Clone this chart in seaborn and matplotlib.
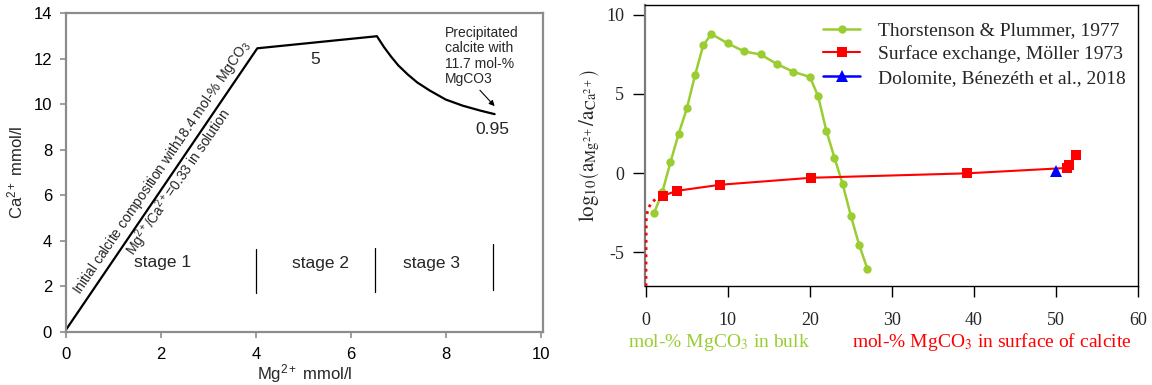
import math
import numpy as np
import pandas as pd
import matplotlib
matplotlib.use("Agg")
import matplotlib.pyplot as plt
import seaborn as sns

# ---------------- data: left panel ----------------
mg_mmol = [0.0, 4.03, 6.55, 6.7, 6.85, 7.0, 7.2, 7.4, 7.66, 8.0, 8.36, 8.72, 9.03]
ca_mmol = [0.1, 12.45, 12.98, 12.5, 12.08, 11.7, 11.3, 10.95, 10.6, 10.2, 9.93, 9.72, 9.56]
stage_names = ["stage 1", "stage 2", "stage 3"]
stage_x = [2.03, 5.36, 7.7]
stage_y = [3.03, 3.0, 3.0]
sep_x = [4.0, 6.52, 9.0]
sep_y0 = [1.71, 1.77, 1.85]
sep_y1 = [3.65, 3.69, 3.86]
left_xticks = [0, 2, 4, 6, 8, 10]
left_yticks = [0, 2, 4, 6, 8, 10, 12, 14]

# ---------------- data: right panel ----------------
tp_x = [1, 2, 3, 4, 5, 6, 7, 8, 10, 12, 14, 16, 18, 20, 21, 22, 23, 24, 25, 26, 27]
tp_y = [-2.54, -1.23, 0.68, 2.48, 4.09, 6.19, 8.09, 8.79, 8.20, 7.69, 7.50, 6.89,
        6.40, 6.08, 4.87, 2.69, 0.97, -0.70, -2.71, -4.53, -6.04]
se_x = [2.04, 3.85, 9.1, 20.15, 39.1, 51.3, 51.6, 52.4]
se_y = [-1.44, -1.12, -0.74, -0.30, -0.02, 0.32, 0.49, 1.17]
dot_x = [0.02, 0.03, 0.06, 0.28, 0.69, 1.3, 2.04]
dot_y = [-7.15, -4.9, -2.8, -2.24, -1.88, -1.6, -1.44]
dol_x = [50.0]
dol_y = [0.1]
right_xticks = [0, 10, 20, 30, 40, 50, 60]
right_yticks = [-5, 0, 5, 10]
labels = ["Thorstenson & Plummer, 1977", "Surface exchange, Möller 1973",
          "Dolomite, Bénezéth et al., 2018"]

GREEN = "#9acd32"
RED = "#ff0000"
BLUE = "#0000ff"
GRAY = "#8c8c8c"

sns.set_style("ticks")
plt.rcParams["font.family"] = ["Liberation Sans", "DejaVu Sans"]
plt.rcParams["mathtext.fontset"] = "custom"
plt.rcParams["mathtext.rm"] = "Liberation Sans"
plt.rcParams["mathtext.it"] = "Liberation Sans:italic"
plt.rcParams["mathtext.bf"] = "Liberation Sans:bold"
plt.rcParams["axes.unicode_minus"] = False

fig = plt.figure(figsize=(11.52, 3.85), dpi=100)
ax1 = fig.add_axes([0.0573, 0.1377, 0.4141, 0.8286])
ax2 = fig.add_axes([0.5599, 0.257, 0.4279, 0.730])

# ================= left panel =================
df_left = pd.DataFrame({"mg": mg_mmol, "ca": ca_mmol})
sns.lineplot(data=df_left, x="mg", y="ca", sort=False, color="black", lw=1.6, ax=ax1,
             solid_joinstyle="round")
ax1.set_xlim(0, 10.05)
ax1.set_ylim(0, 14)
ax1.set_xticks(left_xticks)
ax1.set_yticks(left_yticks)
for s in ax1.spines.values():
    s.set_color(GRAY)
    s.set_linewidth(1.6)
ax1.tick_params(axis="both", color=GRAY, width=1.2, length=4, labelsize=12, labelcolor="black")
ax1.tick_params(axis="x", pad=7)
ax1.tick_params(axis="y", pad=6)
ax1.set_xlabel(r"Mg$^{2+}$ mmol/l", fontsize=12, labelpad=0)
ax1.set_ylabel(r"Ca$^{2+}$ mmol/l", fontsize=12, labelpad=6)

for name, sx, sy in zip(stage_names, stage_x, stage_y):
    ax1.text(sx, sy, name, ha="center", va="center", fontsize=12.5)
for sx, y0, y1 in zip(sep_x, sep_y0, sep_y1):
    ax1.plot([sx, sx], [y0, y1], color="black", lw=0.9)

ax1.text(5.24, 11.95, "5", ha="center", va="center", fontsize=12.5)
ax1.text(8.99, 8.87, "0.95", ha="center", va="center", fontsize=12.5)
ax1.text(7.98, 13.45, "Precipitated\ncalcite with\n11.7 mol-%\nMgCO3", ha="left", va="top",
         fontsize=10, linespacing=1.15)
ax1.annotate("", xy=(9.03, 9.91), xytext=(8.72, 10.61),
             arrowprops=dict(arrowstyle="-|>", color="black", lw=0.8,
                             mutation_scale=8, shrinkA=0, shrinkB=0))

fig.canvas.draw()
p1 = ax1.transData.transform((mg_mmol[0], ca_mmol[0]))
p2 = ax1.transData.transform((mg_mmol[1], ca_mmol[1]))
ang = math.degrees(math.atan2(p2[1] - p1[1], p2[0] - p1[0]))
ux, uy = math.cos(math.radians(ang)), math.sin(math.radians(ang))
nx, ny = -uy, ux
def along(frac):
    return (mg_mmol[0] + frac * (mg_mmol[1] - mg_mmol[0]),
            ca_mmol[0] + frac * (ca_mmol[1] - ca_mmol[0]))
off1 = 8.0 * 0.72
ax1.annotate("Initial calcite composition with18.4 mol-% MgCO$_3$", xy=along(0.105),
             xytext=(nx * off1, ny * off1), textcoords="offset points",
             rotation=ang, rotation_mode="anchor", ha="left", va="baseline", fontsize=10)
off2 = -15.0 * 0.72
ax1.annotate(r"Mg$^{2+}$/Ca$^{2+}$=0.33 in solution", xy=along(0.29),
             xytext=(nx * off2, ny * off2), textcoords="offset points",
             rotation=ang, rotation_mode="anchor", ha="left", va="baseline", fontsize=10)

# ================= right panel =================
SERIF = "Liberation Serif"
ax2.plot(dot_x, dot_y, color=RED, lw=2.0, ls=(0, (1, 1.6)), zorder=4)
sns.lineplot(x=tp_x, y=tp_y, sort=False, color=GREEN, lw=1.8, marker="o", markersize=6,
             markeredgewidth=0, label=labels[0], ax=ax2, zorder=3)
sns.lineplot(x=se_x, y=se_y, sort=False, color=RED, lw=1.5, marker="s", markersize=7.5,
             markeredgewidth=0, label=labels[1], ax=ax2, zorder=4)
sns.lineplot(x=dol_x, y=dol_y, sort=False, color=BLUE, lw=1.8, marker="^", markersize=9,
             markeredgewidth=0, label=labels[2], ax=ax2, zorder=5)

ax2.set_xlim(-0.1, 60)
ax2.set_ylim(-7.15, 10.63)
ax2.set_xticks(right_xticks)
ax2.set_yticks(right_yticks)
ax2.set_xticklabels([str(v) for v in right_xticks])
ax2.set_yticklabels([str(v) for v in right_yticks])
for lab in ax2.get_xticklabels() + ax2.get_yticklabels():
    lab.set_fontfamily(SERIF)
for k, s in ax2.spines.items():
    s.set_color("black")
    s.set_linewidth(1.0)
ax2.spines["left"].set_color("#7a7a7a")
ax2.spines["left"].set_linewidth(1.6)
ax2.tick_params(axis="x", length=8, width=1, pad=11, labelsize=13, color="black")
ax2.tick_params(axis="y", length=9, width=1, pad=6, labelsize=13, color="black")
ax2.set_xlabel("")
ax2.set_ylabel(r"$\mathrm{log}_{10}\left(\mathrm{a}_{\mathrm{Mg}^{2+}}/\mathrm{a}_{\mathrm{Ca}^{2+}}\right)$",
               fontsize=15, math_fontfamily="stix", labelpad=3)

leg = ax2.legend(loc="upper right", bbox_to_anchor=(0.975, 0.94), frameon=False,
                 prop={"family": SERIF, "size": 14}, handlelength=1.9, handletextpad=0.9,
                 labelspacing=0.3, borderpad=0, borderaxespad=0)

ax2.text(0.149, -0.2, r"mol-% MgCO$_3$ in bulk", transform=ax2.transAxes, ha="center",
         va="center", color=GREEN, fontsize=14, family=SERIF, math_fontfamily="stix")
ax2.text(0.703, -0.2, r"mol-% MgCO$_3$ in surface of calcite", transform=ax2.transAxes,
         ha="center", va="center", color=RED, fontsize=14, family=SERIF, math_fontfamily="stix")

fig.savefig("out.png", dpi=100)
